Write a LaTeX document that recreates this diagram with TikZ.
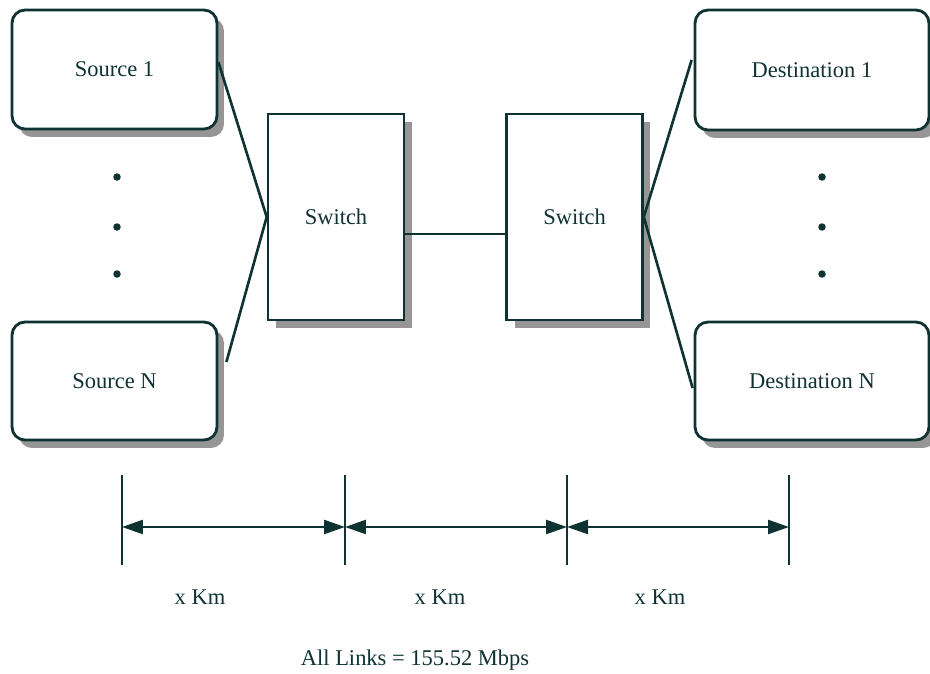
\documentclass[tikz,border=0pt]{standalone}
\usepackage{fontspec}
\setmainfont{Liberation Serif}
\usetikzlibrary{shadows,arrows.meta,calc}
\definecolor{ink}{RGB}{15,50,50}
\definecolor{shade}{RGB}{150,150,150}
\begin{document}
\begin{tikzpicture}[x=0.02cm,y=-0.02cm,
  every node/.style={font=\fontsize{12.8}{15}\selectfont, text=ink},
  endbox/.style={draw=ink, line width=1.6pt, rounded corners=0.26cm, fill=white,
    drop shadow={shadow xshift=0.14cm, shadow yshift=-0.16cm, fill=shade, opacity=1},
    inner sep=0pt},
  swbox/.style={draw=ink, line width=1.5pt, fill=white,
    drop shadow={shadow xshift=0.16cm, shadow yshift=-0.16cm, fill=shade, opacity=1},
    minimum width=2.72cm, minimum height=4.12cm, inner sep=0pt},
  link/.style={draw=ink, line width=1.5pt},
  tick/.style={draw=ink, line width=1.4pt},
  dim/.style={draw=ink, line width=1.4pt, {Triangle[length=0.42cm,width=0.28cm]}-{Triangle[length=0.42cm,width=0.28cm]}},
  dot/.style={circle, fill=ink, inner sep=0pt, minimum size=0.15cm}]
\useasboundingbox[fill=white] (0,0) rectangle (930,673);

% end boxes
\node[endbox, minimum width=4.1cm, minimum height=2.38cm] (s1) at (114.5,69.5) {Source 1};
\node[endbox, minimum width=4.1cm, minimum height=2.36cm] (sN) at (114.5,381) {Source N};
\node[endbox, minimum width=4.68cm, minimum height=2.4cm] (d1) at (812,70) {Destination 1};
\node[endbox, minimum width=4.68cm, minimum height=2.36cm] (dN) at (812,381) {Destination N};

% switches
\node[swbox] (sw1) at (336,217) {Switch};
\node[swbox] (sw2) at (574.5,217) {Switch};

% connectors
\coordinate (s1p) at ($(s1.east)+(0,-7.5)$);
\coordinate (sNp) at ($(sN.east)+(8,-19)$);
\coordinate (d1p) at ($(d1.west)+(-2,-10)$);
\coordinate (dNp) at ($(dN.west)+(-1,7)$);
\draw[link] (s1p) -- (sw1.west) -- (sNp);
\draw[link] (d1p) -- (sw2.east) -- (dNp);
\draw[link] ($(sw1.east)+(0,17)$) coordinate (m1) -- (m1 -| sw2.west);

% dots
\node[dot] (ld1) at (117,177) {};
\node[dot] (ld2) at (117,227) {};
\node[dot] (ld3) at (117,274) {};
\node[dot] (rd1) at (822,177) {};
\node[dot] (rd2) at (822,227) {};
\node[dot] (rd3) at (822,274) {};

% dimension lines
\foreach \n/\x in {a/122,b/345,c/567,d/789}{
  \coordinate (\n t) at (\x,475);
  \coordinate (\n b) at (\x,565);
  \coordinate (\n m) at (\x,527);
  \draw[tick] (\n t) -- (\n b);
}
\draw[dim] (am) -- (bm);
\draw[dim] (bm) -- (cm);
\draw[dim] (cm) -- (dm);

\node (k1) at (200,597) {x Km};
\node (k2) at (440,597) {x Km};
\node (k3) at (660,597) {x Km};
\node (all) at (415,660) {All Links = 155.52 Mbps};
\end{tikzpicture}
\end{document}
